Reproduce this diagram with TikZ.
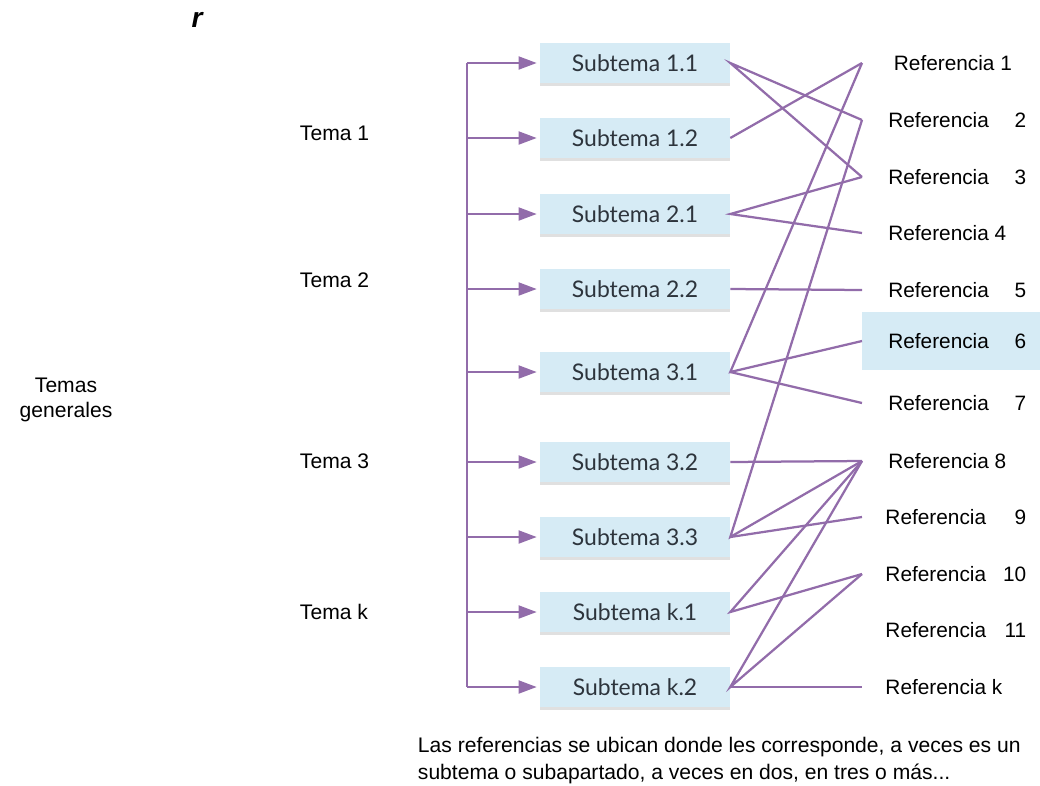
\documentclass[tikz,border=0pt]{standalone}
\usepackage{fontspec}
\setmainfont{Liberation Sans}
\newfontfamily\boxfont{Lato}
\usepackage{tikz}
\usepackage{xcolor}
\usetikzlibrary{positioning, arrows.meta, shadows}
\definecolor{lila}{RGB}{146,108,170}
\definecolor{celeste}{RGB}{214,235,245}
\definecolor{pizarra}{RGB}{45,52,60}
\tikzset{
  subtema/.style={
    rectangle, fill=celeste,
    minimum width=4.75cm, minimum height=1.02cm,
    font=\boxfont\fontsize{16.3}{18}\selectfont, text=pizarra,
    drop shadow={shadow xshift=0pt, shadow yshift=-1.5pt, fill=black!30, opacity=0.4}
  },
  referencia/.style={anchor=west, inner sep=0pt, minimum height=1.45cm,
    font=\fontsize{14.8}{16}\selectfont},
  tema/.style={anchor=west, font=\fontsize{15}{17}\selectfont},
  rama/.style={draw=lila, line width=2.1pt},
  flecha/.style={draw=lila, line width=2.1pt,
    -{Triangle[length=13pt, width=9pt]}, shorten >=2pt},
  enlace/.style={draw=lila, line width=1.6pt},
}
\newcommand{\refe}[1]{\hspace*{0.65cm}\makebox[3.45cm][l]{#1}\hspace*{0.35cm}}

\begin{document}
\begin{tikzpicture}[x=0.025cm, y=-0.025cm]
  \useasboundingbox (0,0) rectangle (1040,785);

  \node[font=\fontsize{20}{20}\selectfont\bfseries\itshape] (letra) at (197,20) {r};

  % temas
  \node[align=center, font=\fontsize{15}{18}\selectfont] (generales) at (66,400) {Temas\\generales};
  \node[tema] (t1) at (295,133) {Tema 1};
  \node[tema] (t2) at (295,280) {Tema 2};
  \node[tema] (t3) at (295,461) {Tema 3};
  \node[tema] (tk) at (295,612) {Tema k};

  % subtemas
  \node[subtema] (s11) at (635,63)  {Subtema 1.1};
  \node[subtema] (s12) at (635,138) {Subtema 1.2};
  \node[subtema] (s21) at (635,214) {Subtema 2.1};
  \node[subtema] (s22) at (635,289) {Subtema 2.2};
  \node[subtema] (s31) at (635,372) {Subtema 3.1};
  \node[subtema] (s32) at (635,462) {Subtema 3.2};
  \node[subtema] (s33) at (635,537) {Subtema 3.3};
  \node[subtema] (sk1) at (635,612) {Subtema k.1};
  \node[subtema] (sk2) at (635,687) {Subtema k.2};

  % referencias
  \node[referencia] (r1)  at (862,63)  {\refe{\hspace*{4pt}Referencia 1}};
  \node[referencia] (r2)  at (862,120) {\refe{Referencia\hfill 2}};
  \node[referencia] (r3)  at (862,177) {\refe{Referencia\hfill 3}};
  \node[referencia] (r4)  at (862,233) {\refe{Referencia 4}};
  \node[referencia] (r5)  at (862,290) {\refe{Referencia\hfill 5}};
  \node[referencia, fill=celeste] (r6) at (862,341) {\refe{Referencia\hfill 6}};
  \node[referencia] (r7)  at (862,403) {\refe{Referencia\hfill 7}};
  \node[referencia] (r8)  at (862,461) {\refe{Referencia 8}};
  \node[referencia] (r9)  at (862,517) {\refe{\hspace*{-2pt}Referencia\hfill 9}};
  \node[referencia] (r10) at (862,574) {\refe{\hspace*{-2pt}Referencia\hfill 10}};
  \node[referencia] (r11) at (862,630) {\refe{\hspace*{-2pt}Referencia\hfill 11}};
  \node[referencia] (rk)  at (862,687) {\refe{\hspace*{-2pt}Referencia k}};

  \node[anchor=north west, align=left, font=\fontsize{15}{19.5}\selectfont]
    (nota) at (413,732)
    {Las referencias se ubican donde les corresponde, a veces es un\\
     subtema o subapartado, a veces en dos, en tres o más...};

  % tronco y flechas
  \coordinate (tronco) at (467,0);
  \draw[rama] (s11 -| tronco) -- (sk2 -| tronco);
  \draw[flecha] (s11 -| tronco) -- (s11.west);
  \draw[flecha] (s12 -| tronco) -- (s12.west);
  \draw[flecha] (s21 -| tronco) -- (s21.west);
  \draw[flecha] (s22 -| tronco) -- (s22.west);
  \draw[flecha] (s31 -| tronco) -- (s31.west);
  \draw[flecha] (s32 -| tronco) -- (s32.west);
  \draw[flecha] (s33 -| tronco) -- (s33.west);
  \draw[flecha] (sk1 -| tronco) -- (sk1.west);
  \draw[flecha] (sk2 -| tronco) -- (sk2.west);

  % enlaces subtema - referencia
  \draw[enlace] (r2.west) -- (s11.east) -- (r3.west);
  \draw[enlace] (s12.east) -- (r1.west);
  \draw[enlace] (r3.west) -- (s21.east) -- (r4.west);
  \draw[enlace] (s22.east) -- (r5.west);
  \draw[enlace] (r1.west) -- (s31.east) -- (r6.west);
  \draw[enlace] (s31.east) -- (r7.west);
  \draw[enlace] (s32.east) -- (r8.west);
  \draw[enlace] (r2.west) -- (s33.east) -- (r8.west);
  \draw[enlace] (s33.east) -- (r9.west);
  \draw[enlace] (r8.west) -- (sk1.east) -- (r10.west);
  \draw[enlace] (r8.west) -- (sk2.east) -- (r10.west);
  \draw[enlace] (sk2.east) -- (rk.west);
\end{tikzpicture}
\end{document}
